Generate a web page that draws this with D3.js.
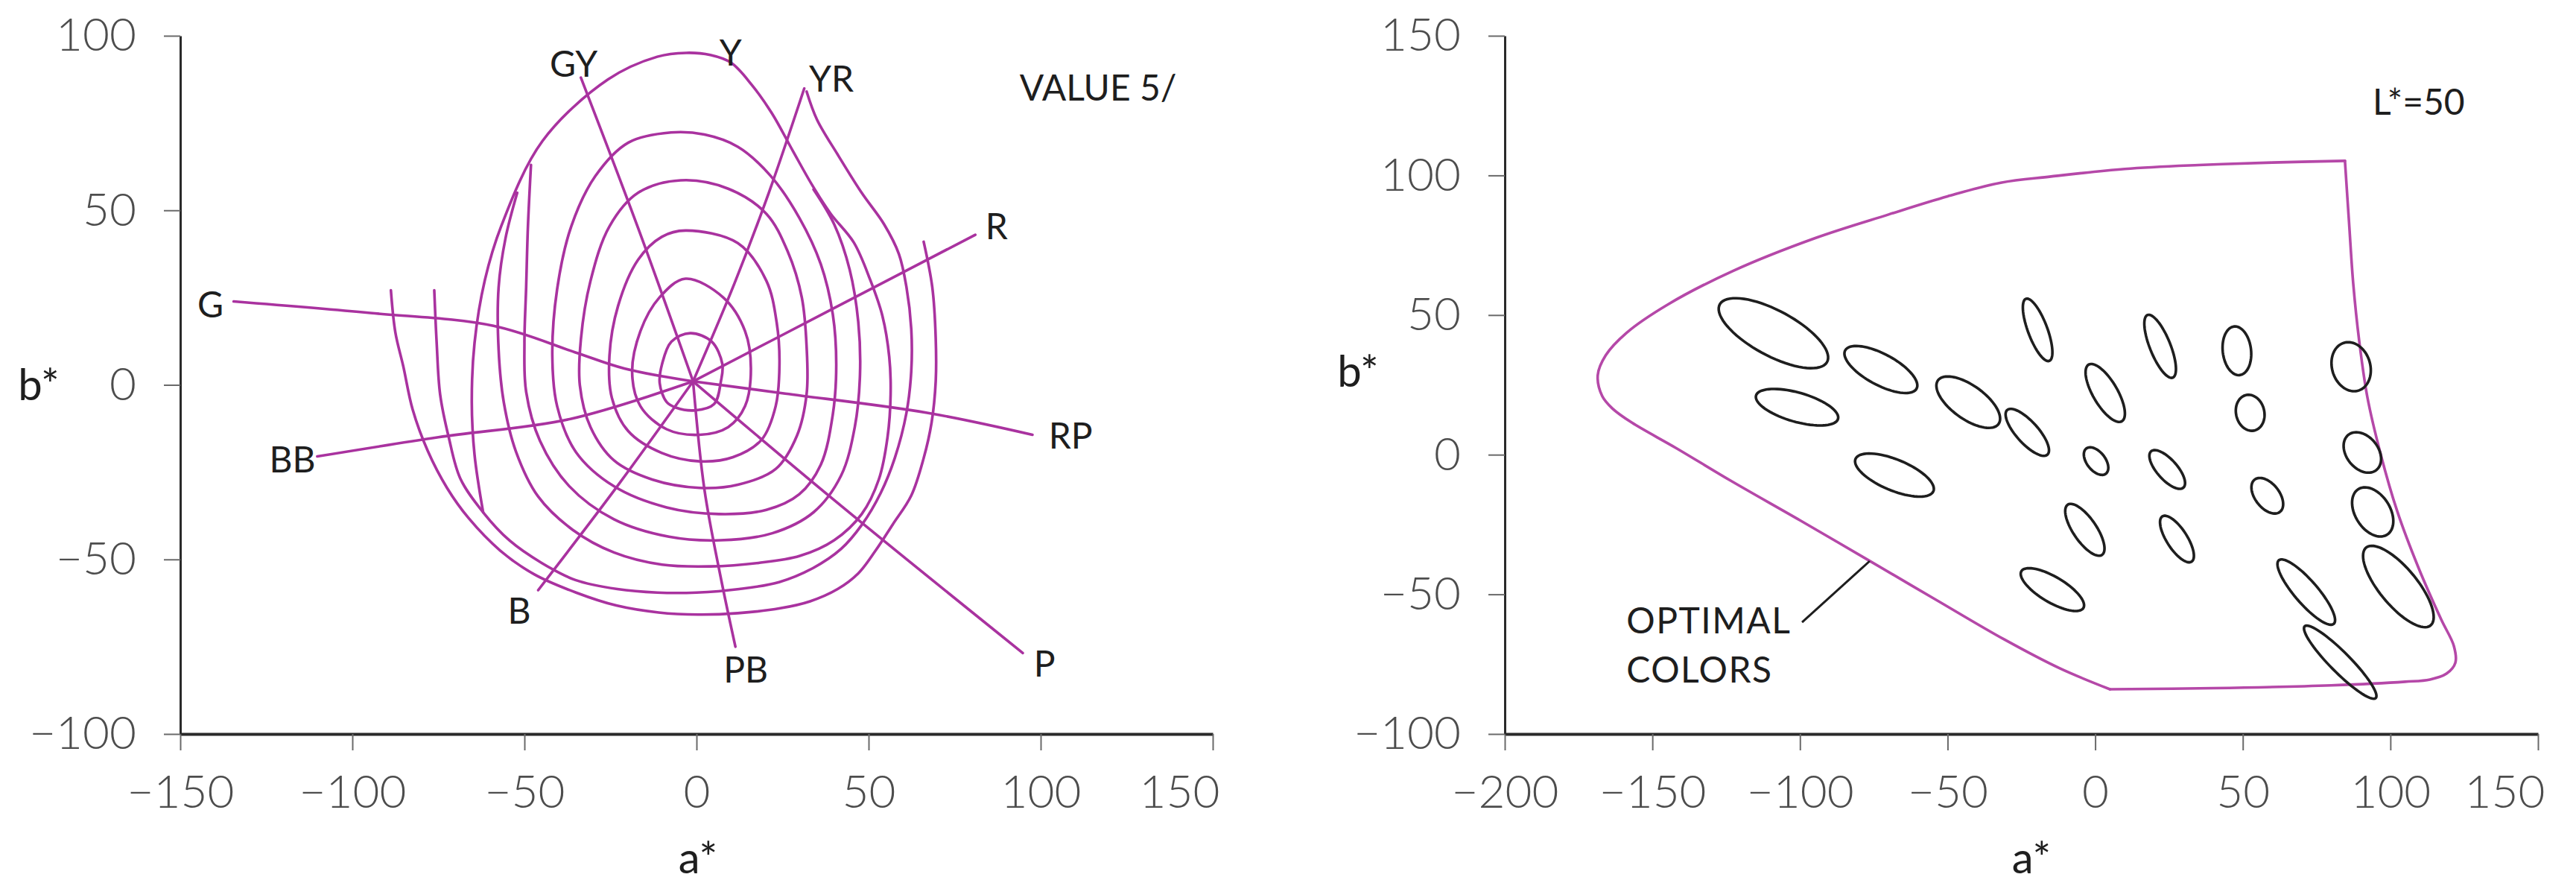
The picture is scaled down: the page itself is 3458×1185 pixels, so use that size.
<!DOCTYPE html>
<html>
<head>
<meta charset="utf-8">
<script src="https://cdn.jsdelivr.net/npm/d3@7"></script>
<style>
  html, body { margin: 0; padding: 0; background: #ffffff; }
  svg { display: block; }
  text { font-family: Lato, "Open Sans", "DejaVu Sans", sans-serif; }
</style>
</head>
<body>
<svg id="chart" width="3458" height="1185"></svg>
<script>
// ---------- Axis ticks ----------
const leftXTicks  = [-150, -100, -50, 0, 50, 100, 150];
const leftYTicks  = [-100, -50, 0, 50, 100];
const rightXTicks = [-200, -150, -100, -50, 0, 50, 100, 150];
const rightYTicks = [-100, -50, 0, 50, 100, 150];

// ---------- Left panel: Munsell value 5 loci in a*b* ----------
// constant-chroma contours, innermost first ([a*, b*])
const ring1 = [[-1.8,14.8],[4.4,12.4],[7.5,6],[7.1,1.1],[5.1,-5.5],[-0.4,-7.3],[-6,-6.5],[-8.7,-4.9],[-10.7,0.5],[-10,6],[-7.3,12.4]];
const ring2 = [[-3.2,30.4],[7.8,25.0],[14.1,15.4],[15.8,4.7],[14.1,-6.1],[9.2,-12.1],[0.9,-14.3],[-8.7,-12.7],[-16.3,-6.1],[-18.7,3.5],[-16.3,15.4],[-10.8,25.0]];
const ring3 = [[-3.2,44.2],[12.0,40.6],[20.3,29.8],[23.3,17.8],[24.1,5.9],[23.0,-6.1],[18.9,-15.7],[10.6,-20.7],[0.9,-21.9],[-10.1,-19.5],[-19.8,-13.3],[-24.6,-3.7],[-25.3,8.3],[-22.8,22.6],[-17.0,35.8],[-10.1,42.4]];
const ring4 = [[-4.6,58.6],[9.2,56.2],[20.3,49.0],[26.5,38.2],[30.6,25.0],[32.0,10.7],[32.0,-2.5],[29.2,-14.5],[23.0,-24.1],[12.0,-28.6],[0.9,-29.5],[-12.9,-27.1],[-23.9,-21.7],[-30.8,-12.1],[-33.9,-0.1],[-33.6,13.0],[-30.8,29.8],[-25.3,45.4],[-17.0,55.0]];
const ring5 = [[-7.4,72.3],[2.3,71.7],[12.0,68.2],[21.6,59.8],[29.9,47.8],[36.1,34.6],[39.6,20.2],[40.6,5.9],[39.6,-8.5],[36.1,-22.9],[29.9,-31.3],[20.3,-35.8],[6.5,-37.0],[-8.7,-35.1],[-23.9,-29.1],[-35.0,-19.3],[-40.5,-6.1],[-41.9,8.3],[-40.5,27.4],[-36.4,45.4],[-29.4,59.8],[-19.8,69.4]];
const ring6 = [[34,56],[40,46],[44.5,33],[47,18],[47.5,3],[46,-12],[42,-26],[34,-36.5],[22,-42.5],[7,-44.5],[-8,-43.5],[-24,-38.5],[-37,-29],[-45.5,-16],[-49.5,-2],[-50,12],[-49.5,28],[-49,45],[-48.1,63]];
const ring7 = [[-62,-36.5],[-64.5,-20],[-65.3,-5],[-64.5,12],[-61.5,30],[-56.7,45.6],[-44.8,69.8],[-25.7,87.5],[-11.4,94],[-3,95.1],[4,94.5],[10,92.3],[16,86],[21.9,77.8],[28,67],[33.8,56.9],[39,49],[45.7,40.8],[50.5,30],[54,19.8],[56,8],[56.4,-2.7],[55.5,-15],[53,-27],[48,-37],[40,-44.5],[30,-49],[18,-51],[4,-52],[-10,-51.5],[-24,-48],[-36,-41.5],[-46,-32],[-52.5,-19],[-56,-5],[-57.5,10],[-57.5,28],[-55.5,42],[-52.1,55]];
const ring8 = [[-76.2,27.1],[-75.5,12],[-74.5,-2.7],[-72,-15],[-68.6,-26.9],[-62,-36.5],[-54.3,-44.6],[-45,-51],[-35.2,-55.9],[-23,-58.5],[-11.4,-59.5],[0,-59.5],[12.4,-58.5],[24,-56.5],[33.8,-52.5],[42,-47],[48.1,-40],[53.5,-31],[57.6,-21],[61,-8],[62.4,4],[62.4,16],[61,28],[58.8,37.5],[54.5,46],[48,55],[41,66],[35,76],[32,84]];
const ring9 = [[-88.8,27.1],[-87.5,15],[-85.2,5.3],[-82.5,-7],[-78.1,-18.9],[-72.5,-29.5],[-66.2,-38.2],[-57,-47.5],[-47.1,-54.3],[-35,-59.5],[-23.3,-63.2],[-11,-65.2],[0.5,-65.8],[12,-65.4],[24.3,-64],[33,-62],[41,-58.5],[47,-54],[52,-47.5],[57,-40],[62.4,-31.7],[66,-21],[68.3,-10.8],[69.5,1],[69.5,13.4],[68.5,28],[66,41]];
const chromaRings  = [ring1, ring2, ring3, ring4, ring5, ring6, ring7, ring8, ring9];
const ringIsClosed = [true, true, true, true, true, false, false, false, false];

// constant-hue loci radiating from the neutral point
const hueGY = [[-1,1],[-17,45],[-33.6,88]];
const hueYR = [[-1,1],[11,29],[21,55],[31.3,84.9]];
const hueR  = [[-1,1],[40,22],[81,43]];
const hueRP = [[-1,1],[25.8,-2.5],[67,-8],[97.6,-14.3]];
const hueP  = [[-1,1],[40,-33],[94.8,-76.8]];
const huePB = [[-1,1],[2.3,-30],[7,-55],[11.3,-75]];
const hueB  = [[-1,1],[-23,-29],[-46,-58.8]];
const hueBB = [[-1,1],[-36.4,-9.7],[-75,-15],[-110.2,-20.5]];
const hueG  = [[-1,1],[-21,4.7],[-35.2,9.3],[-59,16.9],[-94.8,20.6],[-134.5,23.9]];
const hueLoci = [hueGY, hueYR, hueR, hueRP, hueP, huePB, hueB, hueBB, hueG];

const hueLabels = ["GY", "Y", "YR", "R", "RP", "P", "PB", "B", "BB", "G"];
const hueLabelA = [-35.7, 9.9, 39.2, 87.2, 108.7, 101.1, 14.3, -51.5, -117.4, -141.2];
const hueLabelB = [91.9, 95.1, 87.7, 45.4, -14.5, -79.8, -81.6, -64.8, -21.3, 23];

// ---------- Right panel: L* = 50 ----------
// optimal-colour boundary, upper/left run and lower/right run
const optimalUpper = [[84.6,105.2],[60,104.6],[35,103.7],[10,102.3],[-15,99.6],[-32,97.4],[-50,92.5],[-70,86],[-95,77.5],[-122.7,65.8],[-144.9,53.7],[-158.8,43.6],[-165.8,35.6],[-168.5,28.5],[-167,21],[-163.5,16.5],[-157,11.5],[-142,2.4],[-123.5,-9.3],[-100,-23.5],[-77.1,-37.6],[-54,-51.9],[-30.9,-66.1],[-12,-76.5],[5,-84]];
const optimalLower = [[5,-84],[40,-83.6],[80,-82.6],[105,-81.3],[113.4,-80.5],[119,-78.4],[122,-74.5],[121.5,-68.5],[117.2,-59],[109.6,-40.7],[102.3,-20.2],[96.7,0.2],[92.2,20.6],[89.4,41],[87.4,61.4],[86,83],[84.6,105.2]];
const leaderLine = [[-76.4,-38.1],[-99.3,-60]];

// colour-difference ellipses: centre, semi-axes (CIELAB units), orientation (deg)
const ellipseA     = [-109, -72.6, -101, -43, -23, -19.5, 3.4, 22, 48, 86.7, 52.5, 0.3, 24.4, 58.3, 90.5, 94, 102.7, 71.5, 83, -3.5, 27.7, -14.5, -68];
const ellipseB     = [43.5, 30.5, 17, 18.8, 8, 44.7, 22.1, 38.8, 37.2, 31.5, 15, -2.3, -5.3, -14.7, 0.8, -20.5, -47.2, -49.2, -74.3, -26.9, -30.2, -48.3, -7.3];
const ellipseMajor = [20.9, 13.9, 14.5, 12.9, 10.5, 11.8, 11.6, 12, 8.75, 8.9, 6.5, 5.6, 8.5, 7.2, 7.9, 9.5, 17.7, 14.7, 17.6, 10.7, 9.5, 12.4, 14.4];
const ellipseMinor = [8, 5.5, 5.2, 5.9, 3.8, 3.3, 4.2, 3.5, 4.8, 6.5, 4.8, 3.2, 3.5, 4.2, 5.5, 6, 6.5, 4, 3.5, 4, 3.5, 4.5, 5.5];
const ellipseAngle = [-30, -30, -17, -38, -50, -70.6, -61.4, -69.3, -84, -76, -79, -55, -50.5, -55, -56, -61, -52.4, -51, -47, -57.6, -59, -32.5, -24];

// ---------- drawing ----------
const MAGENTA = "#a9329f";
const BOUNDARY = "#b548a8";
const INK = "#1e1e1e";
const svg = d3.select("#chart");
const fmt = d => (d < 0 ? "\u2212" + Math.abs(d) : String(d));

function drawAxes(x, y, xTicks, yTicks) {
  const bottom = y.range()[0];
  const left = x.range()[0];
  const gx = svg.append("g").attr("transform", `translate(0,${bottom})`)
    .call(d3.axisBottom(x).tickValues(xTicks).tickFormat(fmt).tickSize(22).tickPadding(33).tickSizeOuter(0));
  const gy = svg.append("g").attr("transform", `translate(${left},0)`)
    .call(d3.axisLeft(y).tickValues(yTicks).tickFormat(fmt).tickSize(22).tickPadding(37).tickSizeOuter(0));
  gx.select(".domain").attr("stroke", "#2a2a2a").attr("stroke-width", 4);
  gy.select(".domain").attr("stroke", "#2a2a2a").attr("stroke-width", 3);
  [gx, gy].forEach(g => {
    g.selectAll(".tick line").attr("stroke", "#6a6a6a").attr("stroke-width", 2);
    g.selectAll(".tick text").attr("fill", "#4d4d4d").attr("font-size", 62)
      .attr("font-weight", 300).attr("font-family", "Lato, 'Open Sans', sans-serif");
  });
  // the last a* label sits flush with the end of the axis
  gx.selectAll(".tick text").filter((d, i, n) => i === n.length - 1)
    .attr("text-anchor", "end").attr("x", 9);
}

function label(txt, px, py, size, anchor) {
  return svg.append("text").attr("x", px).attr("y", py)
    .attr("text-anchor", anchor || "middle").attr("font-size", size)
    .attr("fill", INK).text(txt);
}

// Left panel
const xL = d3.scaleLinear().domain([-150, 150]).range([242, 1628]);
const yL = d3.scaleLinear().domain([-100, 100]).range([985, 48]);

const lineL = d3.line().x(d => xL(d[0])).y(d => yL(d[1]));
const gL = svg.append("g").attr("fill", "none").attr("stroke", MAGENTA)
  .attr("stroke-width", 3.6).attr("stroke-linejoin", "round").attr("stroke-linecap", "round");

chromaRings.forEach((r, i) => {
  gL.append("path")
    .attr("d", lineL.curve(ringIsClosed[i] ? d3.curveCatmullRomClosed.alpha(0.5) : d3.curveCatmullRom.alpha(0.5))(r));
});
hueLoci.forEach(h => {
  gL.append("path").attr("d", lineL.curve(d3.curveCatmullRom.alpha(0.5))(h));
});

drawAxes(xL, yL, leftXTicks, leftYTicks);

hueLabels.forEach((t, i) => {
  label(t, xL(hueLabelA[i]), yL(hueLabelB[i]), 48).attr("dy", "0.36em");
});
label("VALUE 5/", xL(116.7), yL(85.1), 48).attr("dy", "0.36em");
label("a*", 937, 1172, 58);
label("b*", 52, 516, 58).attr("dy", "0.36em");

// Right panel
const xR = d3.scaleLinear().domain([-200, 150]).range([2020, 3407]);
const yR = d3.scaleLinear().domain([-100, 150]).range([985, 48]);
const lineR = d3.line().x(d => xR(d[0])).y(d => yR(d[1])).curve(d3.curveCatmullRom.alpha(0.5));

const gB = svg.append("g").attr("fill", "none").attr("stroke", BOUNDARY)
  .attr("stroke-width", 3.6).attr("stroke-linejoin", "round").attr("stroke-linecap", "round");
gB.append("path").attr("d", lineR(optimalUpper));
gB.append("path").attr("d", lineR(optimalLower));

svg.append("path").attr("d", d3.line().x(d => xR(d[0])).y(d => yR(d[1]))(leaderLine))
  .attr("stroke", INK).attr("stroke-width", 3).attr("fill", "none");

const ellipseLine = d3.line().x(d => xR(d[0])).y(d => yR(d[1])).curve(d3.curveLinearClosed);
const gE = svg.append("g").attr("fill", "none").attr("stroke", INK).attr("stroke-width", 3.6);
ellipseA.forEach((ca, i) => {
  const th = ellipseAngle[i] * Math.PI / 180, A = ellipseMajor[i], B = ellipseMinor[i];
  const pts = d3.range(0, 72).map(k => {
    const t = k / 72 * 2 * Math.PI;
    const u = A * Math.cos(t), v = B * Math.sin(t);
    return [ca + u * Math.cos(th) - v * Math.sin(th), ellipseB[i] + u * Math.sin(th) + v * Math.cos(th)];
  });
  gE.append("path").attr("d", ellipseLine(pts));
});

drawAxes(xR, yR, rightXTicks, rightYTicks);

label("L*=50", xR(109.6), yR(126.2), 48).attr("dy", "0.36em");
label("OPTIMAL", xR(-158.8), yR(-64), 48, "start").attr("letter-spacing", 1.5);
label("COLORS", xR(-158.8), yR(-81.6), 48, "start").attr("letter-spacing", 1.5);
label("a*", 2727, 1172, 58);
label("b*", 1823, 498, 58).attr("dy", "0.36em");
</script>
</body>
</html>
